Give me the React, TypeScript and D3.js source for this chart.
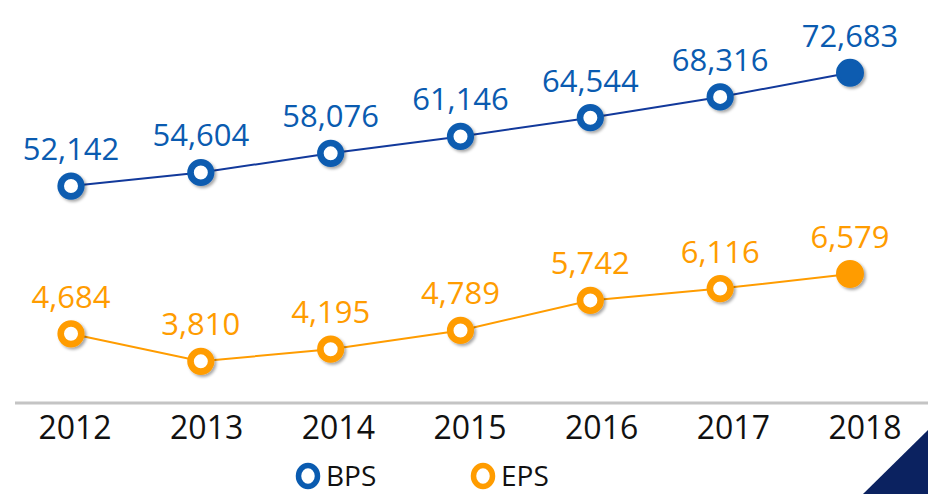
import { useEffect, useRef } from "react";
import * as d3 from "d3";

const years = ["2012", "2013", "2014", "2015", "2016", "2017", "2018"];
const bps = [52142, 54604, 58076, 61146, 64544, 68316, 72683];
const eps = [4684, 3810, 4195, 4789, 5742, 6116, 6579];
const seriesNames = ["BPS", "EPS"];

const BLUE = "#0a5bb0";
const BLUE_LINE = "#12399b";
const ORANGE = "#ff9c00";
const FONT = "'Open Sans', 'Noto Sans', sans-serif";

export default function App() {
  const svgRef = useRef<SVGSVGElement>(null);
  const width = 928;
  const height = 494;

  useEffect(() => {
    const svg = d3.select(svgRef.current).attr("width", width).attr("height", height);
    svg.selectAll("*").remove();

    const defs = svg.append("defs");
    defs
      .append("filter")
      .attr("id", "shadow")
      .attr("x", "-50%")
      .attr("y", "-50%")
      .attr("width", "200%")
      .attr("height", "200%")
      .append("feDropShadow")
      .attr("dx", 2)
      .attr("dy", 2)
      .attr("stdDeviation", 1.6)
      .attr("flood-color", "#000")
      .attr("flood-opacity", 0.35);

    const x = d3.scalePoint().domain(years).range([71, 850]);
    const xLabel = d3.scalePoint().domain(years).range([75, 865]);
    const yBps = d3.scaleLinear().domain([40000, 80000]).range([253, 32.5]);
    const yEps = d3.scaleLinear().domain([0, 8000]).range([481.5, 229.2]);

    // baseline
    svg
      .append("line")
      .attr("x1", 15)
      .attr("x2", width)
      .attr("y1", 403)
      .attr("y2", 403)
      .attr("stroke", "#c4c4c4")
      .attr("stroke-width", 3);

    // year labels
    svg
      .selectAll(".year")
      .data(years)
      .enter()
      .append("text")
      .attr("x", (d) => xLabel(d)!)
      .attr("y", 439)
      .attr("text-anchor", "middle")
      .attr("font-family", FONT)
      .attr("font-size", 32)
      .attr("fill", "#111")
      .text((d) => d);

    const drawSeries = (
      values: number[],
      y: d3.ScaleLinear<number, number>,
      lineColor: string,
      color: string,
      lineWidth: number
    ) => {
      const last = values.length - 1;
      const line = d3
        .line<number>()
        .x((_, i) => x(years[i])!)
        .y((d) => y(d));
      svg
        .append("path")
        .datum(values)
        .attr("d", line)
        .attr("fill", "none")
        .attr("stroke", lineColor)
        .attr("stroke-width", lineWidth);

      svg
        .append("g")
        .selectAll("circle")
        .data(values)
        .enter()
        .append("circle")
        .attr("cx", (_, i) => x(years[i])!)
        .attr("cy", (d) => y(d))
        .attr("r", (_, i) => (i === last ? 12.5 : 10.3))
        .attr("fill", (_, i) => (i === last ? color : "#fff"))
        .attr("stroke", color)
        .attr("stroke-width", (_, i) => (i === last ? 3 : 6.6))
        .attr("filter", "url(#shadow)");

      svg
        .append("g")
        .selectAll("text")
        .data(values)
        .enter()
        .append("text")
        .attr("x", (_, i) => x(years[i])!)
        .attr("y", (d) => y(d) - 26)
        .attr("text-anchor", "middle")
        .attr("font-family", FONT)
        .attr("font-size", 31)
        .attr("fill", color)
        .text((d) => d3.format(",")(d));
    };

    drawSeries(bps, yBps, BLUE_LINE, BLUE, 2);
    drawSeries(eps, yEps, ORANGE, ORANGE, 2);

    // legend
    const legendX = d3.scalePoint().domain(seriesNames).range([308, 483]);
    const legendColor = d3.scaleOrdinal<string>().domain(seriesNames).range([BLUE, ORANGE]);
    const legend = svg
      .append("g")
      .selectAll("g")
      .data(seriesNames)
      .enter()
      .append("g")
      .attr("transform", (d) => `translate(${legendX(d)},476)`);
    legend
      .append("ellipse")
      .attr("rx", 9.5)
      .attr("ry", 10.5)
      .attr("fill", "#fff")
      .attr("stroke", (d) => legendColor(d))
      .attr("stroke-width", 5.5);
    legend
      .append("text")
      .attr("x", 18)
      .attr("y", 10)
      .attr("font-family", FONT)
      .attr("font-size", 28)
      .attr("fill", "#111")
      .text((d) => d);

    // corner decoration
    svg
      .append("path")
      .attr("d", `M863,${height}L${width},430L${width},${height}Z`)
      .attr("fill", "#0b2260");
  }, []);

  return (
    <svg
      ref={svgRef}
      style={{ position: "absolute", left: 0, top: 0, background: "#fff" }}
    ></svg>
  );
}
